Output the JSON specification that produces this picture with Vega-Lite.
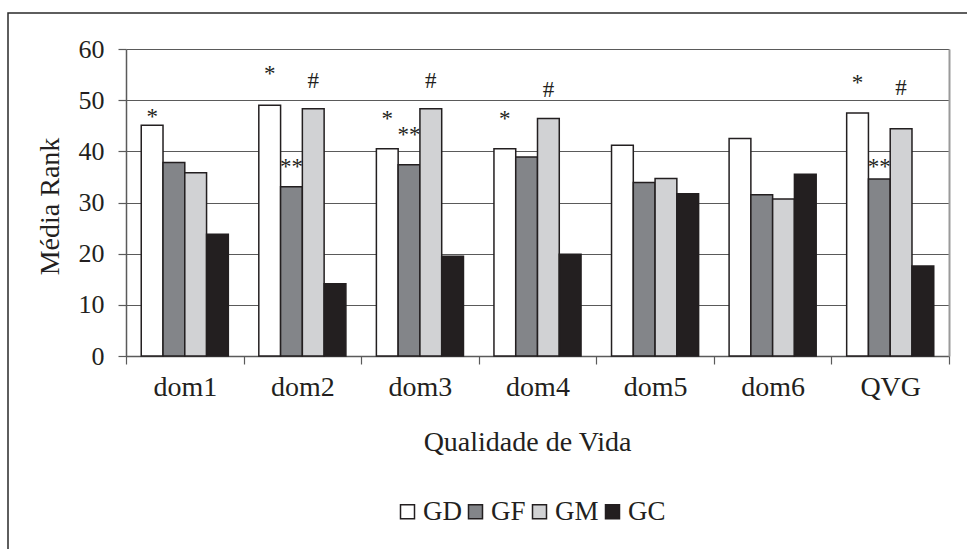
{
  "$schema": "https://vega.github.io/schema/vega-lite/v6.json",
  "width": 963,
  "height": 537,
  "autosize": {"type": "none"},
  "padding": {"left": 8, "top": 13, "right": 0, "bottom": 0},
  "background": "white",
  "config": {
    "view": {"stroke": "#2a2a2a", "strokeWidth": 1.5},
    "font": "Liberation Serif, serif",
    "text": {"font": "Liberation Serif, serif"}
  },
  "datasets": {
    "bars": [
      {"dominio": "dom1", "grupo": "GD", "media": 45.1},
      {"dominio": "dom1", "grupo": "GF", "media": 37.8},
      {"dominio": "dom1", "grupo": "GM", "media": 35.8},
      {"dominio": "dom1", "grupo": "GC", "media": 23.8},
      {"dominio": "dom2", "grupo": "GD", "media": 49.0},
      {"dominio": "dom2", "grupo": "GF", "media": 33.1},
      {"dominio": "dom2", "grupo": "GM", "media": 48.3},
      {"dominio": "dom2", "grupo": "GC", "media": 14.1},
      {"dominio": "dom3", "grupo": "GD", "media": 40.5},
      {"dominio": "dom3", "grupo": "GF", "media": 37.4},
      {"dominio": "dom3", "grupo": "GM", "media": 48.3},
      {"dominio": "dom3", "grupo": "GC", "media": 19.5},
      {"dominio": "dom4", "grupo": "GD", "media": 40.5},
      {"dominio": "dom4", "grupo": "GF", "media": 38.9},
      {"dominio": "dom4", "grupo": "GM", "media": 46.4},
      {"dominio": "dom4", "grupo": "GC", "media": 19.9},
      {"dominio": "dom5", "grupo": "GD", "media": 41.2},
      {"dominio": "dom5", "grupo": "GF", "media": 33.9},
      {"dominio": "dom5", "grupo": "GM", "media": 34.7},
      {"dominio": "dom5", "grupo": "GC", "media": 31.7},
      {"dominio": "dom6", "grupo": "GD", "media": 42.5},
      {"dominio": "dom6", "grupo": "GF", "media": 31.5},
      {"dominio": "dom6", "grupo": "GM", "media": 30.7},
      {"dominio": "dom6", "grupo": "GC", "media": 35.5},
      {"dominio": "QVG", "grupo": "GD", "media": 47.5},
      {"dominio": "QVG", "grupo": "GF", "media": 34.6},
      {"dominio": "QVG", "grupo": "GM", "media": 44.4},
      {"dominio": "QVG", "grupo": "GC", "media": 17.6}
    ],
    "notes": [
      {"dominio": "dom1", "grupo": "GD", "rotulo": "*", "pos": 47.5},
      {"dominio": "dom2", "grupo": "GD", "rotulo": "*", "pos": 55.8},
      {"dominio": "dom2", "grupo": "GF", "rotulo": "**", "pos": 37.7},
      {"dominio": "dom2", "grupo": "GM", "rotulo": "#", "pos": 53.8},
      {"dominio": "dom3", "grupo": "GD", "rotulo": "*", "pos": 47.1},
      {"dominio": "dom3", "grupo": "GF", "rotulo": "**", "pos": 44.0},
      {"dominio": "dom3", "grupo": "GM", "rotulo": "#", "pos": 53.8},
      {"dominio": "dom4", "grupo": "GD", "rotulo": "*", "pos": 47.1},
      {"dominio": "dom4", "grupo": "GM", "rotulo": "#", "pos": 52.0},
      {"dominio": "QVG", "grupo": "GD", "rotulo": "*", "pos": 54.1},
      {"dominio": "QVG", "grupo": "GF", "rotulo": "**", "pos": 37.8},
      {"dominio": "QVG", "grupo": "GM", "rotulo": "#", "pos": 52.3}
    ]
  },
  "layer": [
    {
      "data": {"name": "bars"},
      "mark": {"type": "bar", "stroke": "#231f20", "strokeWidth": 1.5},
      "encoding": {
        "x": {
          "field": "dominio", "type": "nominal",
          "sort": ["dom1", "dom2", "dom3", "dom4", "dom5", "dom6", "QVG"],
          "scale": {"range": [118, 941], "paddingInner": 0, "paddingOuter": 0},
          "axis": {
            "orient": "bottom", "offset": -194, "tickBand": "extent",
            "tickSize": 8, "tickColor": "#5a5a5a", "tickWidth": 1.2,
            "domainColor": "#5a5a5a", "domainWidth": 1.5,
            "labelAngle": 0, "labelFontSize": 28, "labelFont": "Liberation Serif, serif",
            "labelPadding": 9, "labelColor": "#231f20", "grid": false,
            "title": "Qualidade de Vida", "titleFontSize": 28, "titleFont": "Liberation Serif, serif",
            "titleFontWeight": "normal", "titleColor": "#231f20",
            "titleX": 519, "titleY": 94, "titleBaseline": "alphabetic", "titleAlign": "center"
          }
        },
        "xOffset": {
          "field": "grupo", "type": "nominal", "sort": ["GD", "GF", "GM", "GC"],
          "scale": {"paddingInner": 0, "paddingOuter": 0.7}
        },
        "y": {
          "field": "media", "type": "quantitative",
          "scale": {"domain": [0, 60], "range": [343, 36], "nice": false},
          "axis": {
            "orient": "left", "offset": -118, "values": [0, 10, 20, 30, 40, 50, 60],
            "grid": true, "gridColor": "#5a5a5a", "gridWidth": 1.2,
            "domainColor": "#5a5a5a", "domainWidth": 1.5,
            "tickColor": "#5a5a5a", "tickSize": 8, "tickWidth": 1.2,
            "labelFontSize": 26, "labelFont": "Liberation Serif, serif", "labelColor": "#231f20",
            "labelPadding": 14,
            "title": "Média Rank", "titleFontSize": 28, "titleFont": "Liberation Serif, serif",
            "titleFontWeight": "normal", "titleColor": "#231f20",
            "titleX": -76, "titleY": 193, "titleAngle": -90,
            "titleBaseline": "middle", "titleAlign": "center"
          }
        },
        "fill": {
          "field": "grupo", "type": "nominal", "sort": ["GD", "GF", "GM", "GC"],
          "scale": {"domain": ["GD", "GF", "GM", "GC"], "range": ["#ffffff", "#838589", "#d1d2d4", "#231f20"]},
          "legend": {
            "orient": "none", "legendX": 386, "legendY": 485,
            "direction": "horizontal", "columns": 4, "title": null,
            "symbolType": "square", "symbolSize": 196,
            "symbolStrokeColor": "#231f20", "symbolStrokeWidth": 1.5, "symbolOpacity": 1,
            "labelFontSize": 27, "labelFont": "Liberation Serif, serif", "labelColor": "#231f20",
            "labelOffset": 2, "columnPadding": 0
          }
        }
      }
    },
    {
      "data": {"name": "notes"},
      "transform": [{"filter": "datum.rotulo !== '#'"}],
      "mark": {"type": "text", "fontSize": 23, "font": "Liberation Serif, serif", "baseline": "alphabetic", "dy": 11, "color": "#231f20"},
      "encoding": {
        "x": {"field": "dominio", "type": "nominal", "sort": ["dom1", "dom2", "dom3", "dom4", "dom5", "dom6", "QVG"]},
        "xOffset": {"field": "grupo", "type": "nominal", "sort": ["GD", "GF", "GM", "GC"]},
        "y": {"field": "pos", "type": "quantitative", "axis": null},
        "text": {"field": "rotulo"}
      }
    },
    {
      "data": {"name": "notes"},
      "transform": [{"filter": "datum.rotulo === '#'"}],
      "mark": {"type": "text", "fontSize": 23, "font": "Liberation Serif, serif", "baseline": "alphabetic", "dy": 7, "color": "#231f20"},
      "encoding": {
        "x": {"field": "dominio", "type": "nominal", "sort": ["dom1", "dom2", "dom3", "dom4", "dom5", "dom6", "QVG"]},
        "xOffset": {"field": "grupo", "type": "nominal", "sort": ["GD", "GF", "GM", "GC"]},
        "y": {
          "field": "pos", "type": "quantitative",
          "axis": {"orient": "right", "offset": -22, "domainColor": "#9a9a9a", "domainWidth": 2, "ticks": false, "labels": false, "grid": false, "title": null}
        },
        "text": {"field": "rotulo"}
      }
    }
  ],
  "resolve": {"axis": {"y": "independent"}}
}
